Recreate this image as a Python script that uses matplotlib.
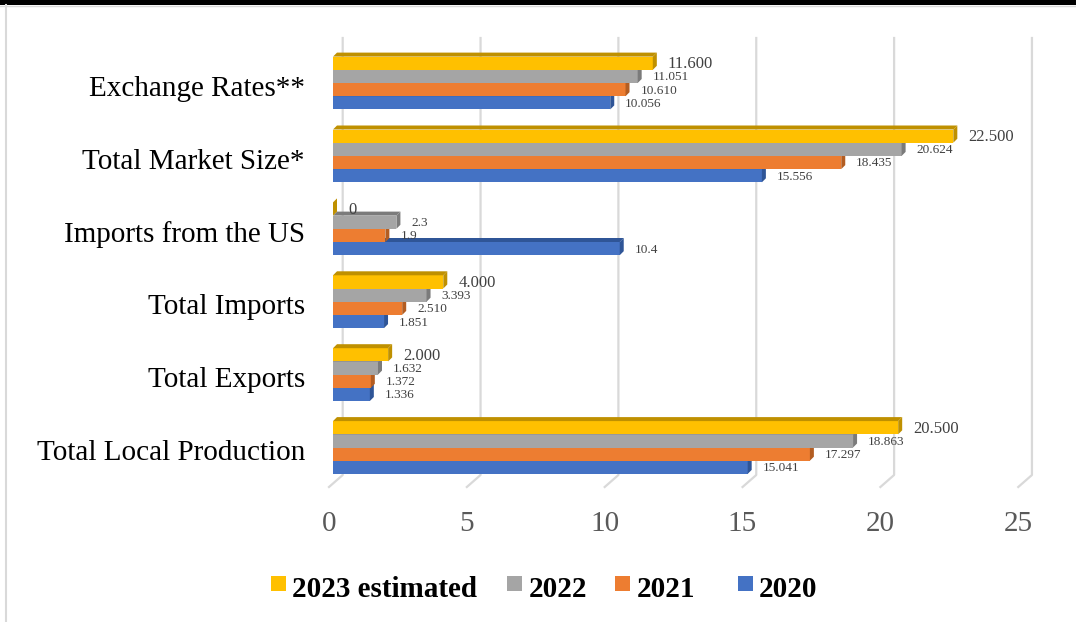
import matplotlib.pyplot as plt
from matplotlib.patches import Polygon, Rectangle

plt.rcParams['font.family'] = ['Liberation Serif', 'DejaVu Serif']

categories = ['Exchange Rates**', 'Total Market Size*', 'Imports from the US',
              'Total Imports', 'Total Exports', 'Total Local Production']
y2023 = [11.600, 22.500, 0, 4.000, 2.000, 20.500]
y2022 = [11.051, 20.624, 2.3, 3.393, 1.632, 18.863]
y2021 = [10.610, 18.435, 1.9, 2.510, 1.372, 17.297]
y2020 = [10.056, 15.556, 10.4, 1.851, 1.336, 15.041]
series_names = ['2023 estimated', '2022', '2021', '2020']
xticks = [0, 5, 10, 15, 20, 25]

# front colour, darker side colour
colors = [('#FFC000', '#BF9000'), ('#A5A5A5', '#7B7B7B'),
          ('#ED7D31', '#B35D22'), ('#4472C4', '#2F5597')]

W, H = 1076, 622
fig = plt.figure(figsize=(W / 100, H / 100), dpi=100)

# pixel mapping of the plot area
x0, sx = 333, 27.57
c0, sy = 83, 72.9
ax = fig.add_axes([320 / W, 1 - 495 / H, 730 / W, 465 / H])
ax.set_xlim((320 - x0) / sx, (1050 - x0) / sx)
ax.set_ylim((495 - c0) / sy, (30 - c0) / sy)
ax.axis('off')

# 3d-ish gridlines: back wall + floor
back, front = 9.7 / sx, -4 / sx
for t in xticks:
    ax.plot([t + back, t + back, t + front],
            [(38 - c0) / sy, (475 - c0) / sy, (487 - c0) / sy],
            color='#D9D9D9', lw=1.6, zorder=0, clip_on=False)
    ax.text(t + front, (531 - c0) / sy, str(t), ha='center', va='baseline',
            fontsize=21, color='#595959')

for i, c in enumerate(categories):
    ax.text(-28 / sx, i + 12.7 / sy, c, ha='right', va='baseline',
            fontsize=21, color='black')

h = 13.2 / sy
dx, dy = 4 / sx, 4 / sy
data = [y2023, y2022, y2021, y2020]
ypos = range(len(categories))
for j in [3, 2, 1, 0]:
    vals = data[j]
    fc, sc = colors[j]
    ys = [y + (j - 1.5) * h for y in ypos]
    z = 5 - j
    ax.barh(ys, vals, height=h, color=fc, zorder=z)
    for y, v in zip(ys, vals):
        top, bot = y - h / 2, y + h / 2
        ax.add_patch(Polygon([(0, top), (v, top), (v + dx, top - dy), (dx, top - dy)],
                             closed=True, fc=sc, ec='none', zorder=z))
        ax.add_patch(Polygon([(v, top), (v + dx, top - dy), (v + dx, bot - dy), (v, bot)],
                             closed=True, fc=sc, ec='none', zorder=z))
        lab = '{:g}'.format(v) if categories[int(round(y))] == 'Imports from the US' else '{:.3f}'.format(v)
        ax.text(v + 15 / sx, y + 1 / sy, lab, ha='left', va='center',
                fontsize=12 if j == 0 else 9.5, color='#404040', zorder=10)

# legend drawn by hand to match spacing
sq_x = [271, 507, 615, 738]
tx_x = [292, 529, 637, 759]
for j, name in enumerate(series_names):
    fig.patches.append(Rectangle((sq_x[j] / W, 1 - 591 / H), 15 / W, 15 / H,
                                 transform=fig.transFigure, fc=colors[j][0], ec='none'))
    fig.text(tx_x[j] / W, 1 - 597 / H, name, ha='left', va='baseline',
             fontsize=21, fontweight='bold', color='black')

# frame bits
fig.patches.append(Rectangle((0, 1 - 4.5 / H), 1, 4.5 / H, transform=fig.transFigure,
                             fc='black', ec='none'))
fig.lines.append(plt.Line2D([0, 1], [1 - 6 / H] * 2, transform=fig.transFigure,
                            color='#D9D9D9', lw=1))
fig.lines.append(plt.Line2D([6 / W] * 2, [0, 1 - 5 / H], transform=fig.transFigure,
                            color='#D9D9D9', lw=1.5))

fig.savefig('out.png', dpi=100)
